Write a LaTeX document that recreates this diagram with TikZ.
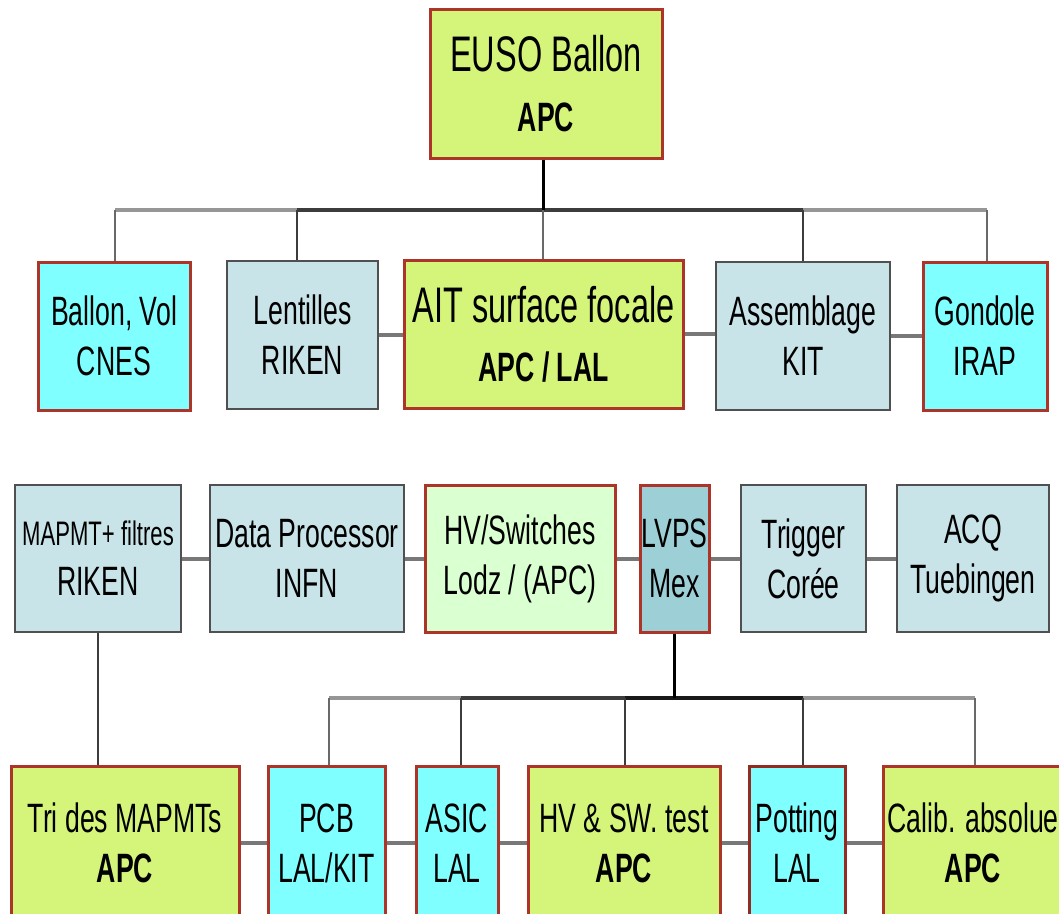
\documentclass[tikz,border=0pt]{standalone}
\usepackage{fontspec}
\setmainfont[FakeStretch=0.65]{Liberation Sans}
\definecolor{yg}{RGB}{212,245,122}
\definecolor{cy}{RGB}{127,255,255}
\definecolor{lb}{RGB}{200,228,232}
\definecolor{pg}{RGB}{218,255,208}
\definecolor{tl}{RGB}{157,207,214}
\definecolor{rb}{RGB}{172,52,40}
\definecolor{gb}{RGB}{80,80,80}
\definecolor{lg}{RGB}{150,150,150}
\definecolor{dg}{RGB}{60,60,60}
\begin{document}
\begin{tikzpicture}[x=1pt,y=-1pt,
  base/.style={rectangle, inner sep=0pt, align=center, font=\fontsize{41}{50}\selectfont},
  redb/.style={base, draw=rb, line width=3pt},
  grayb/.style={base, draw=gb, line width=2pt},
  ygbox/.style={redb, fill=yg},
  cybox/.style={redb, fill=cy},
  pgbox/.style={redb, fill=pg},
  tlbox/.style={redb, fill=tl},
  lbbox/.style={grayb, fill=lb},
  link/.style={draw=lg!80!black, line width=4pt},
  barlight/.style={draw=lg, line width=4pt},
  bardark/.style={draw=dg, line width=4pt},
  droplight/.style={draw=lg!70!black, line width=2pt},
  dropdark/.style={draw=dg, line width=2pt},
  stem/.style={draw=black, line width=3pt}
]
\useasboundingbox (0,0) rectangle (1059,913);
\begin{scope}
\clip (0,0) rectangle (1059,913);
% top
\node[ygbox, minimum width=232pt, minimum height=149pt, font=\fontsize{50}{60}\selectfont] (euso) at (546,83.5)
  {EUSO Ballon\\{\fontsize{41}{50}\selectfont\bfseries APC}};
% row 2
\node[cybox, minimum width=152pt, minimum height=148pt] (ballon) at (114,336) {Ballon, Vol\\CNES};
\node[lbbox, minimum width=151pt, minimum height=148pt] (lent) at (302.5,335) {Lentilles\\RIKEN};
\node[ygbox, minimum width=279pt, minimum height=148pt, font=\fontsize{50}{59}\selectfont] (ait) at (543.5,334)
  {AIT surface focale\\{\fontsize{41}{50}\selectfont\bfseries APC / LAL}};
\node[lbbox, minimum width=174pt, minimum height=148pt] (assem) at (803,336) {Assemblage\\KIT};
\node[cybox, minimum width=124pt, minimum height=148pt] (gond) at (985,336) {Gondole\\IRAP};
% row 3
\node[lbbox, minimum width=166pt, minimum height=147pt] (mapmt) at (98,558.5)
  {{\fontsize{34}{50}\selectfont MAPMT+ filtres}\\RIKEN};
\node[lbbox, minimum width=194pt, minimum height=147pt] (dp) at (307,558.5) {Data Processor\\INFN};
\node[pgbox, minimum width=190pt, minimum height=147pt] (hv) at (520,558.5) {HV/Switches\\Lodz / (APC)};
\node[tlbox, minimum width=69pt, minimum height=147pt] (lvps) at (674.5,558.5) {LVPS\\Mex};
\node[lbbox, minimum width=125pt, minimum height=147pt] (trig) at (803.5,558.5) {Trigger\\Corée};
\node[lbbox, minimum width=152pt, minimum height=147pt] (acq) at (973,558.5) {ACQ\\Tuebingen};
% row 4
\node[ygbox, minimum width=228pt, minimum height=154pt] (tri) at (125,843) {Tri des MAPMTs\\\textbf{APC}};
\node[cybox, minimum width=117pt, minimum height=154pt] (pcb) at (326.5,843) {PCB\\LAL/KIT};
\node[cybox, minimum width=82pt, minimum height=154pt] (asic) at (457,843) {ASIC\\LAL};
\node[ygbox, minimum width=192pt, minimum height=154pt] (hvsw) at (624,843) {HV \& SW. test\\\textbf{APC}};
\node[cybox, draw=rb!85!black, minimum width=96pt, minimum height=154pt] (pot) at (797,843) {Potting\\LAL};
\node[ygbox, minimum width=180pt, minimum height=154pt] (calib) at (973,843) {Calib. absolue\\\textbf{APC}};

% top tree
\coordinate (t0) at (543,210);
\coordinate (t1) at (115,210);
\coordinate (t2) at (297,210);
\coordinate (t4) at (803,210);
\coordinate (t5) at (987,210);
\draw[barlight] (t1) -- (t2);
\draw[barlight] (t4) -- (t5);
\draw[bardark] (t2) -- (t4);
\draw[stem] (euso.south -| t0) -- (t0);
\draw[droplight] (t1) -- (t1 |- ballon.north);
\draw[dropdark] (t2) -- (t2 |- lent.north);
\draw[droplight] (t0) -- (t0 |- ait.north);
\draw[dropdark] (t4) -- (t4 |- assem.north);
\draw[droplight] (t5) -- (t5 |- gond.north);
% row 2 links
\draw[link] (lent.east) -- (ait.west |- lent.east);
\draw[link] (ait.east) -- (assem.west |- ait.east);
\draw[link] (assem.east) -- (gond.west);
% row 3 links
\draw[link] (mapmt.east) -- (dp.west);
\draw[link] (dp.east) -- (hv.west);
\draw[link] (hv.east) -- (lvps.west);
\draw[link] (lvps.east) -- (trig.west);
\draw[link] (trig.east) -- (acq.west);
% bottom tree
\coordinate (u0) at (674.5,698);
\coordinate (u1) at (329,698);
\coordinate (u2) at (461,698);
\coordinate (u3) at (625,698);
\coordinate (u4) at (803,698);
\coordinate (u5) at (975,698);
\draw[barlight] (u1) -- (u2);
\draw[bardark] (u2) -- (u3);
\draw[draw=black!90, line width=4pt] (u3) -- (u4);
\draw[barlight] (u4) -- (u5);
\draw[stem] (lvps.south) -- (u0);
\draw[droplight] (u1) -- (u1 |- pcb.north);
\draw[dropdark] (u2) -- (u2 |- asic.north);
\draw[dropdark] (u3) -- (u3 |- hvsw.north);
\draw[dropdark] (u4) -- (u4 |- pot.north);
\draw[droplight] (u5) -- (u5 |- calib.north);
% mapmt to tri
\draw[dropdark] (mapmt.south) -- (mapmt.south |- tri.north);
% row 4 links
\draw[link] (tri.east) -- (pcb.west |- tri.east);
\draw[link] (pcb.east) -- (asic.west);
\draw[link] (asic.east) -- (hvsw.west);
\draw[link] (hvsw.east) -- (pot.west);
\draw[link] (pot.east) -- (calib.west);
\end{scope}
\end{tikzpicture}
\end{document}
